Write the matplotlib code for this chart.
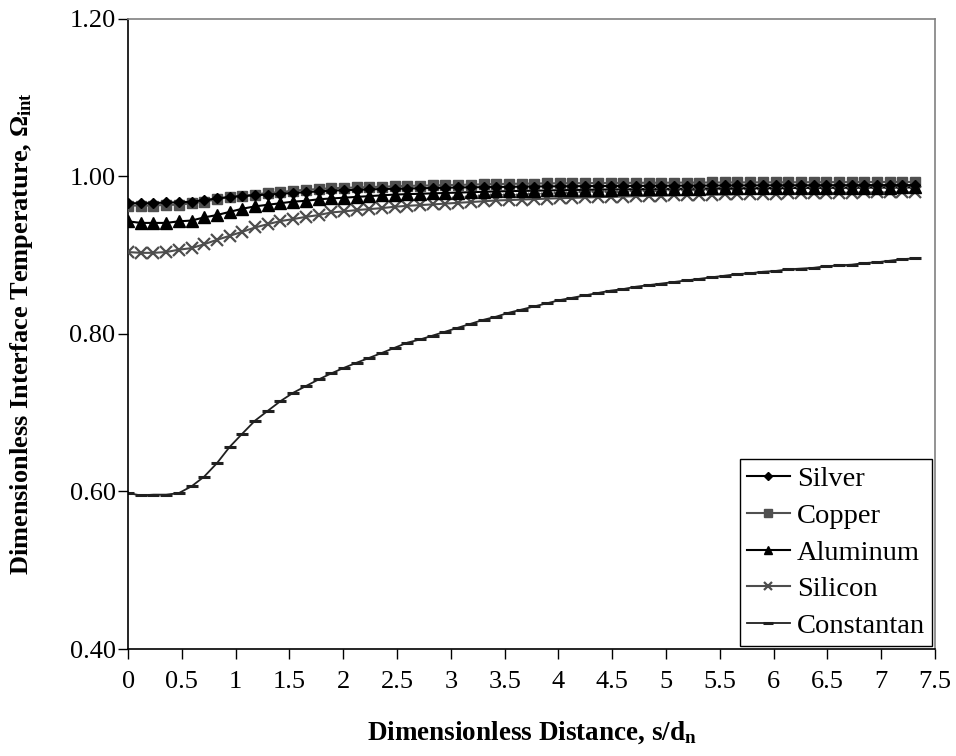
import matplotlib
matplotlib.use("Agg")
import matplotlib.pyplot as plt
import numpy as np

plt.rcParams.update({
    "font.family": ["Liberation Serif", "DejaVu Serif"],
    "mathtext.default": "regular",
    "font.size": 19,
})

# dimensionless distance s/d_n, one sample per node
s_dn = np.linspace(0.0, 7.316, 63)

silver = [0.966, 0.966, 0.966, 0.967, 0.967, 0.968, 0.970, 0.972, 0.974, 0.975,
          0.976, 0.977, 0.978, 0.979, 0.980, 0.981, 0.982, 0.9825, 0.983, 0.9835,
          0.984, 0.9843, 0.9846, 0.985, 0.9853, 0.9856, 0.986, 0.9862, 0.9864, 0.9866,
          0.9868, 0.987, 0.9872, 0.9874, 0.9875, 0.9876, 0.9877, 0.9878, 0.9879, 0.988,
          0.988, 0.9881, 0.9882, 0.9883, 0.9883, 0.9884, 0.9885, 0.9885, 0.9886, 0.9886,
          0.9887, 0.9887, 0.9888, 0.9888, 0.9888, 0.9889, 0.9889, 0.9889, 0.989, 0.989,
          0.989, 0.989, 0.989]
copper = [0.963, 0.963, 0.963, 0.964, 0.964, 0.966, 0.968, 0.971, 0.974, 0.9755,
          0.977, 0.979, 0.980, 0.982, 0.983, 0.984, 0.985, 0.9855, 0.986, 0.9865,
          0.987, 0.9875, 0.988, 0.9883, 0.9886, 0.989, 0.9893, 0.9896, 0.990, 0.9903,
          0.9906, 0.9908, 0.991, 0.9912, 0.9913, 0.9914, 0.9915, 0.9916, 0.9917, 0.9918,
          0.9919, 0.992, 0.992, 0.9921, 0.9922, 0.9922, 0.9923, 0.9923, 0.9924, 0.9924,
          0.9925, 0.9925, 0.9926, 0.9926, 0.9927, 0.9927, 0.9928, 0.9928, 0.9929, 0.9929,
          0.993, 0.993, 0.993]
aluminum = [0.943, 0.941, 0.941, 0.941, 0.943, 0.944, 0.948, 0.951, 0.955, 0.959,
            0.962, 0.964, 0.966, 0.968, 0.969, 0.971, 0.972, 0.973, 0.974, 0.975,
            0.976, 0.977, 0.9775, 0.978, 0.9785, 0.979, 0.9795, 0.980, 0.9805, 0.981,
            0.9813, 0.9816, 0.9819, 0.9822, 0.9825, 0.9828, 0.983, 0.9832, 0.9834, 0.9836,
            0.9838, 0.984, 0.9842, 0.9843, 0.9845, 0.9846, 0.9848, 0.9849, 0.985, 0.9851,
            0.9852, 0.9853, 0.9854, 0.9855, 0.9856, 0.9857, 0.9857, 0.9858, 0.9858, 0.9859,
            0.9859, 0.986, 0.986]
silicon = [0.904, 0.903, 0.903, 0.904, 0.907, 0.909, 0.914, 0.9195, 0.9246, 0.9297,
           0.9352, 0.9394, 0.9433, 0.9458, 0.9487, 0.9509, 0.9543, 0.9556, 0.9573, 0.9585,
           0.9598, 0.9615, 0.9627, 0.9636, 0.9645, 0.9655, 0.9665, 0.9675, 0.9685, 0.9695,
           0.970, 0.9706, 0.9712, 0.9718, 0.9723, 0.9728, 0.9733, 0.9737, 0.9741, 0.9745,
           0.9749, 0.9753, 0.9757, 0.976, 0.9763, 0.9766, 0.9769, 0.9772, 0.9775, 0.9777,
           0.978, 0.9782, 0.9784, 0.9786, 0.9788, 0.979, 0.9792, 0.9794, 0.9796, 0.9797,
           0.9798, 0.9799, 0.980]
constantan = [0.598, 0.595, 0.596, 0.596, 0.598, 0.6066, 0.619, 0.636, 0.6566, 0.6735,
              0.690, 0.7024, 0.7147, 0.7253, 0.7338, 0.7422, 0.7499, 0.757, 0.7635, 0.7697,
              0.776, 0.7825, 0.789, 0.793, 0.798, 0.803, 0.808, 0.813, 0.818, 0.822,
              0.827, 0.831, 0.835, 0.839, 0.843, 0.846, 0.849, 0.852, 0.855, 0.857,
              0.860, 0.862, 0.864, 0.866, 0.868, 0.870, 0.872, 0.874, 0.876, 0.877,
              0.879, 0.880, 0.882, 0.883, 0.884, 0.886, 0.887, 0.888, 0.890, 0.891,
              0.893, 0.895, 0.896]

fig = plt.figure(figsize=(9.56, 7.56), dpi=100)
ax = fig.add_axes([0.134, 0.1415, 0.844, 0.8335])

ax.plot(s_dn, silver, color="black", lw=1.5, marker="D", ms=5.5,
        mfc="black", mec="black", label="Silver", zorder=6)
ax.plot(s_dn, copper, color="#505050", lw=1.5, marker="s", ms=7.5,
        mfc="#505050", mec="#505050", label="Copper", zorder=5)
ax.plot(s_dn, aluminum, color="black", lw=1.5, marker="^", ms=8,
        mfc="black", mec="black", label="Aluminum", zorder=4)
ax.plot(s_dn, silicon, color="#4d4d4d", lw=1.5, marker="x", ms=8, mew=1.6,
        label="Silicon", zorder=3)
ax.plot(s_dn, constantan, color="#202020", lw=1.3, marker="_", ms=9, mew=2.2,
        label="Constantan", zorder=2)

ax.set_xlim(0, 7.5)
ax.set_ylim(0.40, 1.20)
ax.set_xticks(np.arange(0, 7.51, 0.5))
ax.set_xticklabels(["0", "0.5", "1", "1.5", "2", "2.5", "3", "3.5", "4", "4.5",
                    "5", "5.5", "6", "6.5", "7", "7.5"])
ax.set_yticks([0.40, 0.60, 0.80, 1.00, 1.20])
ax.set_yticklabels(["0.40", "0.60", "0.80", "1.00", "1.20"])
ax.tick_params(axis="x", direction="out", length=7, width=1, pad=9, labelsize=19)
ax.tick_params(axis="y", direction="out", length=7, width=1, pad=2, labelsize=19)

for side in ("left", "bottom"):
    ax.spines[side].set_color("black")
    ax.spines[side].set_linewidth(1.2)
for side in ("top", "right"):
    ax.spines[side].set_color("#808080")
    ax.spines[side].set_linewidth(1.2)

ax.set_xlabel("Dimensionless Distance, s/d$_{n}$", fontsize=19.5,
              fontweight="bold", labelpad=19)
ax.set_ylabel("Dimensionless Interface Temperature, Ω$_{int}$", fontsize=19,
              fontweight="bold", labelpad=25)

leg = ax.legend(loc="lower right", fontsize=20.5, frameon=True, fancybox=False,
                edgecolor="black", framealpha=1, handlelength=1.5,
                handletextpad=0.25, borderpad=0.25, labelspacing=0.38,
                borderaxespad=0.1, markerscale=0.8)
leg.get_frame().set_linewidth(1.0)

fig.savefig("out.png", dpi=100)
